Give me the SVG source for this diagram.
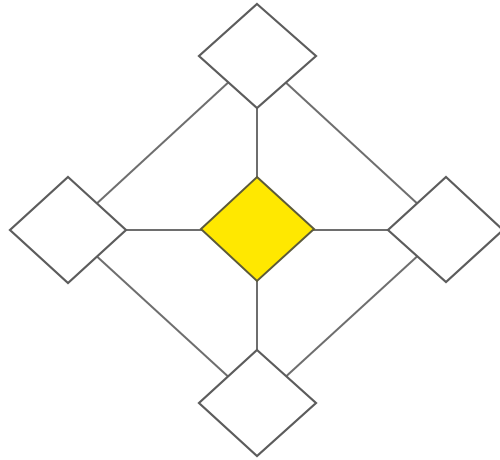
<svg xmlns="http://www.w3.org/2000/svg" width="500" height="460" viewBox="0 0 500 460">
<style>
.edge{stroke:#6e6e6e;stroke-width:2;fill:none}
.node{fill:#ffffff;stroke:#5c5c5c;stroke-width:2.2;stroke-linejoin:miter}
.hub{fill:#ffe800;stroke:#5c5a3a;stroke-width:2}
</style>
<rect width="500" height="460" fill="#ffffff"/>
<g id="connectors">
<line class="edge" x1="257" y1="56" x2="68" y2="230"/>
<line class="edge" x1="257" y1="56" x2="446" y2="230"/>
<line class="edge" x1="68" y1="230" x2="257" y2="403"/>
<line class="edge" x1="446" y1="230" x2="257" y2="403"/>
<line class="edge" x1="257" y1="56" x2="257" y2="403"/>
<line class="edge" x1="68" y1="230" x2="446" y2="230"/>
</g>
<g id="top"><polygon class="node" points="257,4 316,56 257,108 199,56"/></g>
<g id="left"><polygon class="node" points="68,177 126,230 68,283 10,230"/></g>
<g id="right"><polygon class="node" points="446,177 503,230 446,282 388,230"/></g>
<g id="bottom"><polygon class="node" points="257,350 316,403 257,456 199,403"/></g>
<g id="center"><polygon class="hub" points="257,177 314,229 257,281 201,229"/></g>
</svg>
